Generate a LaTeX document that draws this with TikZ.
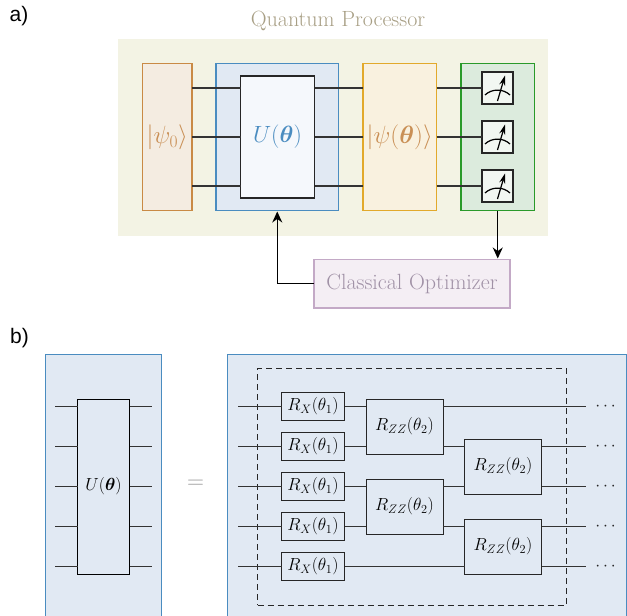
\documentclass[tikz,border=0pt]{standalone}
\usepackage{fix-cm}
\usepackage{fontspec}
\usepackage{amsmath}
\usepackage{amssymb}
\usetikzlibrary{arrows.meta}
\newfontfamily\tagfont{Liberation Sans}
\definecolor{procbg}{HTML}{F3F3E4}
\definecolor{proctext}{HTML}{A89F85}
\definecolor{initfill}{HTML}{F4ECE1}
\definecolor{initline}{HTML}{C98A45}
\definecolor{ansfill}{HTML}{E1E9F3}
\definecolor{ansline}{HTML}{4A8CC0}
\definecolor{ansinner}{HTML}{F5F8FC}
\definecolor{statefill}{HTML}{F9F1DF}
\definecolor{stateline}{HTML}{E2A92B}
\definecolor{statetext}{HTML}{C98F55}
\definecolor{measfill}{HTML}{DCEBDD}
\definecolor{measline}{HTML}{2A9A2A}
\definecolor{meterfill}{HTML}{F2F7F2}
\definecolor{optfill}{HTML}{F4EEF4}
\definecolor{optline}{HTML}{C3A9C6}
\definecolor{opttext}{HTML}{A091A6}
\begin{document}
\begin{tikzpicture}[x=1pt,y=-1pt,>={Stealth[length=11pt,width=10pt]},shorten >=1pt,
                    line width=1.3pt,inner sep=0pt,outer sep=0pt]
  \tikzstyle{box}=[draw,line width=1.1pt,minimum height=147pt]
  \tikzstyle{bigmath}=[font=\fontsize{23.5}{28}\selectfont]
  \tikzstyle{statemath}=[font=\fontsize{25}{30}\selectfont]
  \tikzstyle{bigtext}=[font=\fontsize{22}{26}\selectfont]
  \tikzstyle{smallmath}=[font=\fontsize{17.5}{21}\selectfont]
  \tikzstyle{tag}=[font=\tagfont\fontsize{21}{25}\selectfont]
  \tikzstyle{meter}=[draw=black!85,fill=meterfill,line width=1.3pt,minimum width=31pt,minimum height=32pt]
  \tikzstyle{panel}=[draw=ansline,fill=ansfill,line width=1pt,minimum height=276pt]
  \tikzstyle{rxgate}=[draw=black!85,fill=ansfill,line width=1pt,smallmath,minimum width=63pt,minimum height=27.5pt]
  \tikzstyle{zzgate}=[draw=black!85,fill=ansfill,line width=1pt,smallmath,minimum width=77pt,minimum height=55pt]
  \tikzstyle{wire}=[draw=black!80,line width=1pt,shorten >=0pt]

  \useasboundingbox (0,0) rectangle (627,616);

  \node[tag]           (taga) at (19,16) {a)};
  \node[tag]           (tagb) at (19.5,338) {b)};

  \node[fill=procbg,minimum width=430.5pt,minimum height=197.5pt] (proc) at (332.75,137.25) {};
  \node[bigtext,text=proctext] (proclabel) at (338,21) {Quantum Processor};

  \node[box,draw=initline,fill=initfill,minimum width=49.5pt,statemath,text=statetext] (psi0) at (167.25,137) {$|\psi_0\rangle$};
  \node[box,draw=ansline,fill=ansfill,minimum width=122.5pt] (uouter) at (277.25,137) {};
  \node[draw=black!85,fill=ansinner,line width=1.3pt,minimum width=74pt,minimum height=122pt,bigmath,text=ansline] (uinner) at (277.5,137) {$U(\boldsymbol{\theta})$};
  \node[box,draw=stateline,fill=statefill,minimum width=73.5pt,statemath,text=statetext] (psit) at (399.75,137) {$|\psi(\boldsymbol{\theta})\rangle$};
  \node[box,draw=measline,fill=measfill,minimum width=73.5pt] (meas) at (497.75,137) {};

  \begin{scope}[node distance=49pt]
    \node[meter]       (meter1) at (497.5,88) {};
    \node[meter]       (meter2) [below of=meter1] {};
    \node[meter]       (meter3) [below of=meter2] {};
  \end{scope}

  \node[draw=optline,fill=optfill,line width=1.1pt,minimum width=196pt,minimum height=48.5pt,bigtext,text=opttext] (opt) at (412,283.75) {Classical Optimizer};

  \foreach \m in {meter1,meter2,meter3} {
    \draw[wire,line width=1.1pt] (psi0.east |- \m) -- (uinner.west |- \m);
    \draw[wire,line width=1.1pt] (uinner.east |- \m) -- (psit.west |- \m);
    \draw[wire,line width=1.1pt] (psit.east |- \m) -- (\m.west);
    \draw[black,line width=1.2pt,shorten >=0pt] ([shift={(-12.5,7)}]\m.center) .. controls ([shift={(-6,0.5)}]\m.center) and ([shift={(6,0.5)}]\m.center) .. ([shift={(12.5,7)}]\m.center);
    \draw[black,line width=1.2pt,shorten >=0pt,-{Stealth[length=10pt,width=6pt]}] ([shift={(0,13)}]\m.center) -- ([shift={(7.5,-12.5)}]\m.center);
  }

  \draw[->] (opt.west) -| (uouter.south);
  \draw[->] (meas.south) -- (meas.south |- opt.north);

  \node[panel,minimum width=116.5pt] (left) at (103.25,492) {};
  \node[panel,minimum width=399.5pt] (right) at (426.75,492) {};
  \node[draw=black,fill=ansfill,line width=1pt,minimum width=52pt,minimum height=175pt,smallmath] (uleft) at (103.5,486.5) {$U(\boldsymbol{\theta})$};
  \node[bigmath,text=black!40] (equals) at (195.5,484) {$=$};

  \node[draw=black!85,line width=1pt,dash pattern=on 6pt off 4pt,minimum width=308.5pt,minimum height=237pt] (layer) at (411.75,486.5) {};

  \begin{scope}[node distance=40pt]
    \node[rxgate]      (rx1) at (313,406.5) {$R_X(\theta_1)$};
    \node[rxgate]      (rx2) [below of=rx1] {$R_X(\theta_1)$};
    \node[rxgate]      (rx3) [below of=rx2] {$R_X(\theta_1)$};
    \node[rxgate]      (rx4) [below of=rx3] {$R_X(\theta_1)$};
    \node[rxgate]      (rx5) [below of=rx4] {$R_X(\theta_1)$};
  \end{scope}
  \node[zzgate]        (zz1) at (404.5,426.5) {$R_{ZZ}(\theta_2)$};
  \node[zzgate]        (zz2) at (404.5,506.5) {$R_{ZZ}(\theta_2)$};
  \node[zzgate]        (zz3) at (503,466.5) {$R_{ZZ}(\theta_2)$};
  \node[zzgate]        (zz4) at (503,546.5) {$R_{ZZ}(\theta_2)$};

  \foreach \i in {1,...,5} {
    \coordinate (lin\i) at (55,{366.5+40*\i});
    \coordinate (lout\i) at (152,{366.5+40*\i});
    \coordinate (rin\i) at (238,{366.5+40*\i});
    \coordinate (rout\i) at (585.5,{366.5+40*\i});
    \node[smallmath,text=black!85] (dots\i) at (607,{366.5+40*\i}) {$\cdots$};
    \draw[wire] (lin\i) -- (lin\i -| uleft.west);
    \draw[wire] (lout\i -| uleft.east) -- (lout\i);
    \draw[wire] (rin\i) -- (rx\i);
  }

  \path[wire] (rx1) -- (rx1 -| zz1.west)
        (rx2) -- (rx2 -| zz1.west)
        (rx3) -- (rx3 -| zz2.west)
        (rx4) -- (rx4 -| zz2.west)
        (rx5) -- (rx5 -| zz4.west)
        (rx1 -| zz1.east) -- (rout1)
        (rx2 -| zz1.east) -- (rx2 -| zz3.west)
        (rx3 -| zz2.east) -- (rx3 -| zz3.west)
        (rx4 -| zz2.east) -- (rx4 -| zz4.west)
        (rx2 -| zz3.east) -- (rout2)
        (rx3 -| zz3.east) -- (rout3)
        (rx4 -| zz4.east) -- (rout4)
        (rx5 -| zz4.east) -- (rout5);
\end{tikzpicture}
\end{document}
